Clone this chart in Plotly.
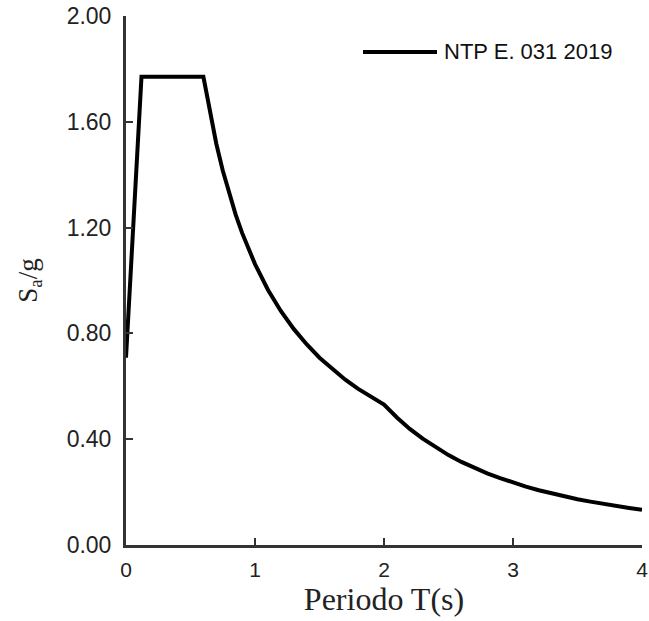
import plotly.graph_objects as go

# Periods (s) and spectral acceleration Sa/g
periodo = [0.0, 0.12, 0.6, 0.65, 0.7, 0.75, 0.8, 0.85, 0.9, 1.0, 1.1, 1.2, 1.3, 1.4, 1.5,
           1.6, 1.7, 1.8, 1.9, 2.0, 2.1, 2.2, 2.3, 2.4, 2.5, 2.6, 2.7, 2.8, 2.9,
           3.0, 3.1, 3.2, 3.3, 3.4, 3.5, 3.6, 3.7, 3.8, 3.9, 4.0]
sa_g = [0.708, 1.770, 1.770, 1.634, 1.517, 1.416, 1.328, 1.249, 1.180, 1.062, 0.965, 0.885,
        0.817, 0.759, 0.708, 0.664, 0.625, 0.590, 0.559, 0.531, 0.482, 0.439, 0.402,
        0.369, 0.340, 0.314, 0.291, 0.271, 0.253, 0.236, 0.221, 0.207, 0.195, 0.184,
        0.173, 0.164, 0.155, 0.147, 0.140, 0.133]
serie_nombre = "NTP E. 031 2019"
y_ticks = [0.0, 0.4, 0.8, 1.2, 1.6, 2.0]
x_ticks = [0, 1, 2, 3, 4]

SANS = "Arial, Liberation Sans, sans-serif"
SERIF = "Times New Roman, Liberation Serif, serif"

fig = go.Figure()
fig.add_trace(go.Scatter(x=periodo, y=sa_g, mode="lines", name=serie_nombre,
                         line=dict(color="black", width=4), showlegend=False))

fig.update_layout(
    width=649, height=621,
    margin=dict(l=126, r=7, t=16, b=76, autoexpand=False),
    paper_bgcolor="white", plot_bgcolor="white",
    font=dict(family=SANS, size=21, color="#222222"),
    xaxis=dict(range=[0, 4], tickvals=x_ticks, ticks="inside", ticklen=7, tickwidth=2,
               tickcolor="#333333", showline=True, linecolor="#333333", linewidth=3,
               showgrid=False, zeroline=False, tickfont=dict(size=21, color="#222222"),
               ticklabelstandoff=4, automargin=False, ticklabeloverflow="allow",
               title=dict(text="Periodo T(s)", font=dict(family=SERIF, size=32, color="#222222"),
                          standoff=0)),
    yaxis=dict(range=[0, 2], tickvals=y_ticks, tickformat=".2f", ticks="inside", ticklen=7,
               tickwidth=2, tickcolor="#333333", showline=True, linecolor="#333333",
               linewidth=3, showgrid=False, zeroline=False, automargin=False,
               ticklabeloverflow="allow",
               tickfont=dict(size=23, color="#222222"), ticklabelstandoff=7,
               title=dict(text="S<sub>a</sub>/g", font=dict(family=SERIF, size=27, color="#222222"),
                          standoff=22)),
)

# manual legend
fig.add_shape(type="line", xref="paper", yref="paper", x0=(363 - 126) / 516, x1=(437 - 126) / 516,
              y0=(545 - 52) / 529, y1=(545 - 52) / 529, line=dict(color="black", width=4))
fig.add_annotation(xref="paper", yref="paper", x=(442 - 126) / 516, y=(545 - 52) / 529,
                   text=serie_nombre, showarrow=False, xanchor="left", yanchor="middle",
                   font=dict(family=SANS, size=22, color="#111111"))

fig.write_html("out.html", config={"displayModeBar": False},
               post_script="document.body.style.margin='0px';document.body.style.overflow='hidden';")
